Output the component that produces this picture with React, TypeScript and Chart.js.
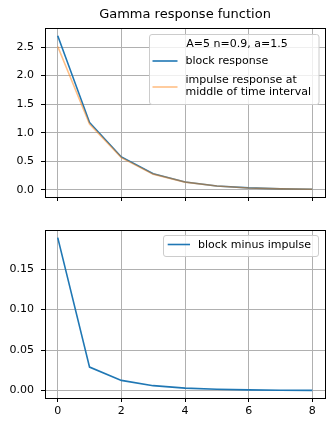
import { useEffect, useRef } from "react";
import { Chart, registerables } from "chart.js";

Chart.register(...registerables);

// Response of a gamma function to a unit block (per time step) and to an impulse
const steps = [0, 1, 2, 3, 4, 5, 6, 7, 8];
const blockResponse = [2.7, 1.18, 0.575, 0.28, 0.137, 0.067, 0.033, 0.016, 0.008];
const impulseResponse = [2.511, 1.151, 0.5625, 0.274, 0.134, 0.0655, 0.0322, 0.0156, 0.0078];
const blockMinusImpulse = [0.189, 0.029, 0.0125, 0.006, 0.003, 0.0015, 0.0008, 0.0004, 0.0002];

const xTicks = [0, 2, 4, 6, 8];
const topYTicks = [0, 0.5, 1, 1.5, 2, 2.5];
const bottomYTicks = [0, 0.05, 0.1, 0.15];

const chartTitle = "Gamma response function";
const paramsLabel = "A=5 n=0.9, a=1.5";
const blockLabel = "block response";
const impulseLabel = "impulse response at\nmiddle of time interval";
const diffLabel = "block minus impulse";

const FONT = "'DejaVu Sans', 'Liberation Sans', sans-serif";
const BLUE = "#1f77b4";
const ORANGE = "rgba(255,127,14,0.5)";

const align = (p: number) => Math.round(p - 0.5) + 0.5;

// padded autoscale range like a plotting library's default 5% margins
const padded = (vals: number[]) => {
  const lo = Math.min(...vals);
  const hi = Math.max(...vals);
  const m = (hi - lo) * 0.05;
  return { min: lo - m, max: hi + m };
};

const framePlugin = {
  id: "frame",
  afterDraw(chart: any) {
    const { left, top, right, bottom } = chart.chartArea;
    const ctx = chart.ctx;
    ctx.save();
    ctx.strokeStyle = "#000";
    ctx.lineWidth = 1;
    const x0 = align(left), x1 = align(right), y0 = align(top), y1 = align(bottom);
    ctx.strokeRect(x0, y0, x1 - x0, y1 - y0);
    ctx.restore();
  },
};

const titlePlugin = {
  id: "axTitle",
  afterDraw(chart: any, _a: any, opts: any) {
    if (!opts || !opts.text) return;
    const { left, right } = chart.chartArea;
    const ctx = chart.ctx;
    ctx.save();
    ctx.font = `13px ${FONT}`;
    ctx.fillStyle = "#000";
    ctx.textAlign = "center";
    ctx.textBaseline = "middle";
    ctx.fillText(opts.text, (left + right) / 2, opts.y);
    ctx.restore();
  },
};

const boxLegendPlugin = {
  id: "boxLegend",
  afterDraw(chart: any, _a: any, opts: any) {
    if (!opts || !opts.entries) return;
    const ctx = chart.ctx;
    const area = chart.chartArea;
    const x = Math.round(area.right - opts.right - opts.width);
    const y = Math.round(area.top + opts.top);
    ctx.save();
    ctx.beginPath();
    ctx.roundRect(x + 0.5, y + 0.5, opts.width, opts.height, 2.5);
    ctx.fillStyle = "rgba(255,255,255,0.8)";
    ctx.fill();
    ctx.strokeStyle = "#cccccc";
    ctx.lineWidth = 1;
    ctx.stroke();
    ctx.font = `11px ${FONT}`;
    ctx.fillStyle = "#000";
    ctx.textBaseline = "middle";
    if (opts.title) {
      ctx.textAlign = "center";
      ctx.fillText(opts.title, x + opts.titleX, y + opts.titleY);
    }
    ctx.textAlign = "left";
    opts.entries.forEach((e: any) => {
      const ds = chart.data.datasets[e.dataset];
      ctx.strokeStyle = ds.borderColor;
      ctx.lineWidth = ds.borderWidth;
      ctx.beginPath();
      ctx.moveTo(x + opts.handleX0, y + e.handleY);
      ctx.lineTo(x + opts.handleX1, y + e.handleY);
      ctx.stroke();
      const lines = String(ds.label).split("\n");
      lines.forEach((ln: string, i: number) => {
        ctx.fillText(ln, x + opts.textX, y + e.lineYs[i]);
      });
    });
    ctx.restore();
  },
};

const xScale = (axisHeight: number, showLabels: boolean) => ({
  type: "linear" as const,
  min: -0.4,
  max: 8.4,
  afterBuildTicks: (s: any) => {
    s.ticks = xTicks.map((v) => ({ value: v }));
  },
  afterFit: (s: any) => {
    s.height = axisHeight;
  },
  grid: { color: "#b0b0b0", lineWidth: 1, tickColor: "#000", tickLength: 4, tickWidth: 1 },
  border: { display: false },
  ticks: {
    font: { family: FONT, size: 11 },
    color: "#000",
    padding: 3,
    maxRotation: 0,
    callback: (v: any) => (showLabels ? String(v) : ""),
  },
});

const yScale = (ticks: number[], range: { min: number; max: number }, digits: number) => ({
  type: "linear" as const,
  min: range.min,
  max: range.max,
  afterBuildTicks: (s: any) => {
    s.ticks = ticks.map((v) => ({ value: v }));
  },
  afterFit: (s: any) => {
    s.width = 45;
  },
  grid: { color: "#b0b0b0", lineWidth: 1, tickColor: "#000", tickLength: 4, tickWidth: 1 },
  border: { display: false },
  ticks: {
    font: { family: FONT, size: 11 },
    color: "#000",
    padding: 7,
    callback: (v: any) => Number(v).toFixed(digits),
  },
});

const toPoints = (ys: number[]) => steps.map((x, i) => ({ x, y: ys[i] }));

export default function App() {
  const topRef = useRef<HTMLCanvasElement>(null);
  const bottomRef = useRef<HTMLCanvasElement>(null);

  useEffect(() => {
    Chart.defaults.font.family = FONT;
    const top = new Chart(topRef.current!, {
      type: "line",
      data: {
        datasets: [
          {
            label: blockLabel,
            data: toPoints(blockResponse),
            borderColor: BLUE,
            borderWidth: 1.6,
            pointRadius: 0,
            tension: 0,
            order: 1,
          },
          {
            label: impulseLabel,
            data: toPoints(impulseResponse),
            borderColor: ORANGE,
            borderWidth: 1.6,
            pointRadius: 0,
            tension: 0,
            order: 0,
          },
        ],
      },
      options: {
        responsive: false,
        animation: false,
        events: [],
        layout: { padding: { top: 28, right: 8, left: 0, bottom: 0 } },
        scales: {
          x: xScale(17, false),
          y: yScale(topYTicks, padded([...blockResponse, ...impulseResponse]), 1),
        },
        plugins: {
          legend: { display: false },
          tooltip: { enabled: false },
          axTitle: { text: chartTitle, y: 15 },
          boxLegend: {
            width: 169.5,
            height: 70,
            right: 7,
            top: 6,
            title: paramsLabel,
            titleX: 88,
            titleY: 10,
            handleX0: 3.5,
            handleX1: 28.5,
            textX: 36.5,
            entries: [
              { dataset: 0, handleY: 27, lineYs: [27] },
              { dataset: 1, handleY: 53, lineYs: [46, 58] },
            ],
          },
        } as any,
      },
      plugins: [framePlugin, titlePlugin, boxLegendPlugin],
    });

    const bottom = new Chart(bottomRef.current!, {
      type: "line",
      data: {
        datasets: [
          {
            label: diffLabel,
            data: toPoints(blockMinusImpulse),
            borderColor: BLUE,
            borderWidth: 1.6,
            pointRadius: 0,
            tension: 0,
          },
        ],
      },
      options: {
        responsive: false,
        animation: false,
        events: [],
        layout: { padding: { top: 16, right: 8, left: 0, bottom: 0 } },
        scales: {
          x: xScale(31, true),
          y: yScale(bottomYTicks, padded(blockMinusImpulse), 2),
        },
        plugins: {
          legend: { display: false },
          tooltip: { enabled: false },
          boxLegend: {
            width: 155,
            height: 21,
            right: 7,
            top: 5,
            handleX0: 4.7,
            handleX1: 27,
            textX: 35,
            entries: [{ dataset: 0, handleY: 9.5, lineYs: [10] }],
          },
        } as any,
      },
      plugins: [framePlugin, boxLegendPlugin],
    });

    return () => {
      top.destroy();
      bottom.destroy();
    };
  }, []);

  return (
    <div style={{ position: "fixed", left: 0, top: 0, width: 333, height: 429, background: "#fff" }}>
      <canvas
        ref={topRef}
        width={333}
        height={214}
        style={{ position: "absolute", left: 0, top: 0, width: 333, height: 214 }}
      />
      <canvas
        ref={bottomRef}
        width={333}
        height={215}
        style={{ position: "absolute", left: 0, top: 214, width: 333, height: 215 }}
      />
    </div>
  );
}
